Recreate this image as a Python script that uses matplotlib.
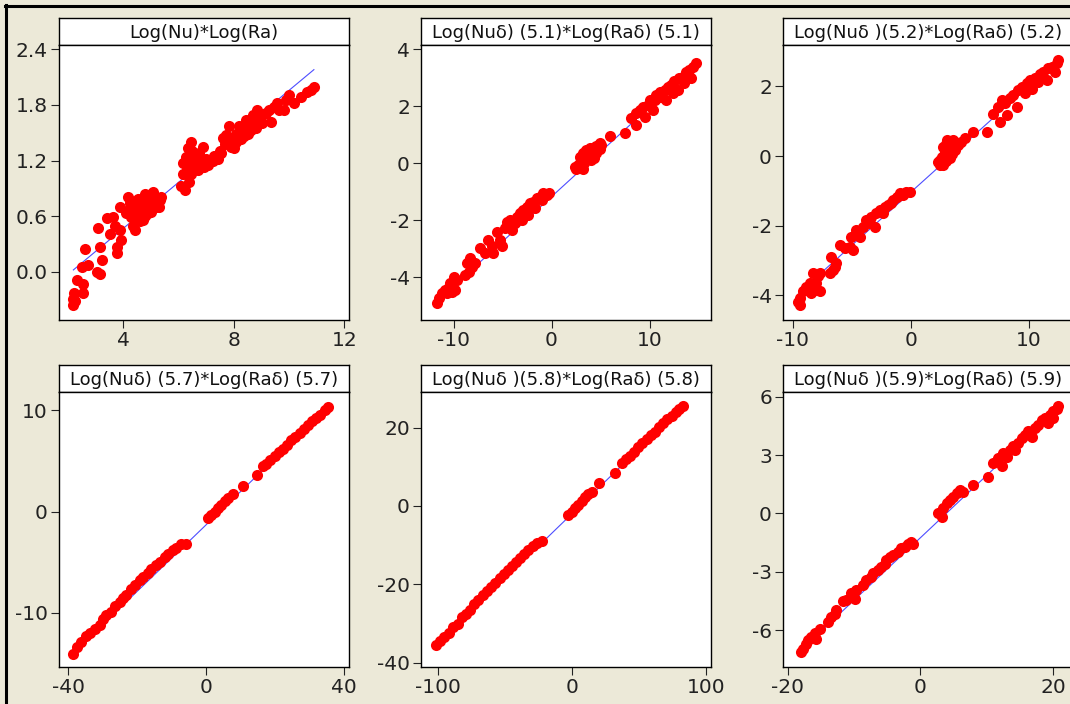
import matplotlib
matplotlib.use("Agg")
import matplotlib.pyplot as plt
from matplotlib.lines import Line2D

# === DATA ===
titles = [
    "Log(Nu)*Log(Ra)",
    "Log(Nuδ) (5.1)*Log(Raδ) (5.1)",
    "Log(Nuδ )(5.2)*Log(Raδ) (5.2)",
    "Log(Nuδ) (5.7)*Log(Raδ) (5.7)",
    "Log(Nuδ )(5.8)*Log(Raδ) (5.8)",
    "Log(Nuδ )(5.9)*Log(Raδ) (5.9)",
]

x1 = [2.20, 2.20, 2.22, 2.26, 2.32, 2.56, 2.56, 2.62, 2.50, 2.74, 3.04, 3.16, 3.10, 3.16,
      3.22, 3.40, 3.64, 3.52, 3.70, 3.76, 3.76, 3.88, 3.94, 3.88, 4.18, 4.24, 4.12, 4.30,
      4.36, 4.42, 4.48, 4.54, 4.60, 4.66, 4.72, 4.78, 4.84, 4.90, 4.96, 5.02, 5.08, 5.14,
      5.20, 5.32, 5.38, 6.10, 6.22, 6.40, 6.46, 6.16, 6.16, 6.28, 6.34, 6.46, 6.40, 6.52,
      6.58, 6.70, 6.76, 6.88, 6.82, 6.94, 7.06, 7.24, 7.42, 7.54, 7.60, 7.72, 7.84, 7.90,
      8.02, 8.08, 8.20, 8.26, 8.38, 8.44, 8.50, 8.62, 8.68, 8.80, 8.86, 9.04, 9.16, 9.28,
      9.34, 9.46, 9.58, 9.64, 9.82, 9.88, 10.00, 10.18, 10.42, 10.66, 10.90, 10.78,
      4.50, 4.60, 4.70, 4.80, 4.90, 5.00, 5.10, 5.20, 5.30, 4.40, 4.30, 4.55,
      6.30, 6.40, 6.50, 6.60, 6.70, 6.90, 7.00, 7.10, 7.30, 7.50, 7.70, 7.80, 8.00, 8.10,
      8.30, 8.50, 8.70, 8.90, 9.10]
y1 = [-0.36, -0.29, -0.23, -0.32, -0.09, -0.13, -0.23, 0.25, 0.05, 0.07, 0.00, -0.02, 0.47, 0.27,
      0.13, 0.58, 0.59, 0.41, 0.49, 0.27, 0.20, 0.45, 0.34, 0.70, 0.81, 0.74, 0.63, 0.59,
      0.49, 0.45, 0.70, 0.56, 0.77, 0.63, 0.56, 0.84, 0.74, 0.63, 0.81, 0.70, 0.86, 0.77,
      0.70, 0.77, 0.81, 0.92, 0.88, 0.97, 1.06, 1.06, 1.17, 1.24, 1.33, 1.40, 1.20, 1.24,
      1.13, 1.10, 1.28, 1.35, 1.20, 1.13, 1.15, 1.19, 1.22, 1.28, 1.44, 1.48, 1.57, 1.35,
      1.33, 1.49, 1.57, 1.43, 1.46, 1.64, 1.49, 1.53, 1.69, 1.55, 1.75, 1.60, 1.71, 1.75,
      1.62, 1.78, 1.82, 1.75, 1.75, 1.85, 1.91, 1.82, 1.89, 1.94, 1.99, 1.96,
      0.65, 0.55, 0.72, 0.60, 0.75, 0.65, 0.72, 0.80, 0.70, 0.60, 0.70, 0.78,
      1.10, 1.15, 1.30, 1.20, 1.25, 1.18, 1.22, 1.20, 1.25, 1.30, 1.38, 1.42, 1.45, 1.40,
      1.50, 1.55, 1.60, 1.65, 1.70]

x2 = [-11.69, -11.53, -11.19, -10.85, -10.51, -10.68, -10.17, -9.83, -9.66, -10.00, -10.34,
      -8.81, -8.47, -8.64, -8.14, -8.31, -7.80, -7.29, -6.78, -6.44, -6.10, -5.93, -5.59,
      -5.25, -5.08, -4.75, -4.58, -4.24, -4.07, -3.73, -3.56, -3.22, -3.05, -2.88, -2.54,
      -2.37, -2.20, -1.86, -1.69, -1.53, -1.19, -1.02, -0.85, -0.51, -0.24,
      2.37, 2.71, 2.88, 3.05, 3.22, 3.39, 3.56, 3.73, 3.90, 4.07, 4.24, 4.41, 4.58, 4.75,
      4.92, 5.08, 5.93, 7.46,
      8.14, 8.64, 8.64, 8.98, 9.32, 9.49, 9.83, 10.00, 10.34, 10.51, 10.68, 11.02, 11.19,
      11.53, 11.69, 11.86, 12.20, 12.37, 12.54, 12.88, 13.05, 13.39, 13.56, 13.73, 14.07,
      14.24, 14.41, 14.75,
      2.50, 2.90, 3.30, 3.60, 4.00, 4.30, 3.20, 3.80, 4.50, 4.90]
y2 = [-4.91, -4.74, -4.56, -4.44, -4.33, -4.56, -4.50, -4.44, -4.09, -3.98, -4.21,
      -3.92, -3.80, -3.51, -3.63, -3.33, -3.51, -2.98, -3.16, -2.69, -2.92, -3.16, -2.40,
      -2.69, -2.92, -2.28, -2.05, -1.99, -2.34, -2.11, -1.87, -1.75, -1.99, -1.64, -1.52,
      -1.81, -1.40, -1.35, -1.58, -1.23, -1.17, -1.29, -1.05, -1.11, -1.05,
      -0.12, -0.06, 0.23, -0.18, 0.35, 0.12, 0.47, 0.23, 0.53, 0.12, 0.41, 0.58, 0.35, 0.53,
      0.70, 0.64, 0.94, 1.05,
      1.58, 1.35, 1.75, 1.87, 1.99, 1.64, 2.05, 2.22, 1.87, 2.22, 2.40, 2.51, 2.34,
      2.57, 2.22, 2.69, 2.75, 2.46, 2.87, 2.57, 2.98, 3.04, 2.81, 3.22, 3.27,
      2.98, 3.39, 3.51,
      -0.20, -0.10, 0.00, 0.20, 0.30, 0.20, -0.20, 0.40, 0.60, 0.50]

x3 = [-9.41, -9.41, -9.55, -9.12, -8.84, -8.56, -8.42, -8.14, -7.99, -7.71, -7.85, -8.28,
      -7.71, -6.86, -6.58, -6.72, -6.30, -6.44, -6.02, -5.59, -5.17, -4.89, -5.03, -4.60,
      -4.32, -4.04, -3.76, -3.47, -3.33, -3.05, -2.91, -2.63, -2.34, -2.20, -1.92, -1.64,
      -1.50, -1.21, -0.93, -0.65, -0.37, -0.08,
      2.32, 2.46, 2.60, 2.74, 2.88, 3.02, 3.16, 3.31, 3.45, 3.59, 3.73, 4.01, 4.29, 4.58,
      5.28, 6.41,
      6.98, 7.40, 7.54, 7.68, 7.97, 8.11, 8.39, 8.67, 8.95, 9.10, 9.38, 9.66, 9.80, 10.08,
      10.23, 10.51, 10.79, 10.93, 11.21, 11.50, 11.64, 11.92, 12.20, 12.34, 12.49,
      2.50, 2.70, 3.00, 3.20, 3.50, 3.80, 3.10, 3.40, 2.90]
y3 = [-4.28, -4.09, -4.18, -3.89, -3.75, -3.66, -3.94, -3.85, -3.66, -3.89, -3.46, -3.37,
      -3.37, -3.37, -3.27, -2.89, -3.08, -3.18, -2.56, -2.65, -2.60, -2.70, -2.32, -2.12,
      -2.32, -2.03, -1.84, -1.93, -1.74, -2.03, -1.65, -1.55, -1.65, -1.45, -1.41, -1.36,
      -1.26, -1.17, -1.07, -1.12, -1.02, -1.02,
      -0.16, -0.26, -0.02, 0.27, 0.08, 0.36, 0.12, -0.07, 0.27, 0.46, 0.17, 0.32, 0.41, 0.51,
      0.70, 0.70,
      1.22, 1.42, 0.99, 1.61, 1.51, 1.18, 1.66, 1.75, 1.42, 1.89, 1.99, 1.80, 2.09, 2.18,
      1.94, 2.23, 2.13, 2.37, 2.42, 2.18, 2.52, 2.56, 2.42, 2.66, 2.76,
      -0.10, -0.25, -0.15, 0.20, 0.05, 0.30, 0.45, 0.40, 0.15]

x4 = [-38.7, -37.5, -36.3, -35.0, -33.8, -32.4, -30.9, -30.0, -29.0, -27.6, -26.6, -25.1,
      -24.2, -23.2, -21.8, -20.8, -19.3, -18.4, -16.9, -16.0, -14.5, -13.5, -12.1, -11.1,
      -9.7, -8.7, -7.3, -6.0,
      0.5, 1.5, 2.4, 3.4, 4.4, 5.3, 6.3, 7.7, 10.6, 14.7,
      16.4, 17.4, 18.6, 19.8, 21.1, 22.2, 23.4, 24.7, 25.8, 27.1, 28.2, 29.5, 30.7, 31.9,
      33.1, 34.3, 35.3]
y4 = [-14.03, -13.37, -12.87, -12.31, -11.98, -11.55, -11.22, -10.66, -10.23, -9.90, -9.34, -8.91,
      -8.58, -8.25, -7.69, -7.26, -6.77, -6.44, -6.04, -5.71, -5.28, -4.95, -4.52, -4.19,
      -3.80, -3.56, -3.23, -3.20,
      -0.66, -0.33, 0.00, 0.33, 0.66, 0.99, 1.32, 1.75, 2.54, 3.56,
      4.52, 4.72, 5.12, 5.45, 5.84, 6.17, 6.60, 7.03, 7.36, 7.76, 8.15, 8.58, 8.91, 9.24,
      9.57, 10.00, 10.33]

x5 = [-101.1, -98.1, -95.2, -91.9, -88.7, -85.2, -82.0, -78.8, -75.8, -72.8, -69.6, -66.3,
      -63.4, -60.1, -57.1, -53.9, -50.9, -47.7, -44.7, -41.5, -38.5, -35.3, -32.3, -29.1,
      -26.1, -22.4,
      -2.5, 0.0, 2.5, 5.0, 7.5, 9.9, 12.4, 14.9, 20.6, 32.3,
      37.3, 40.5, 43.5, 46.5, 49.7, 52.7, 55.9, 58.9, 62.1, 65.1, 68.3, 71.3, 74.5, 77.5,
      80.2, 82.7]
y5 = [-35.6, -34.5, -33.4, -32.4, -30.9, -30.2, -28.3, -27.5, -26.5, -24.9, -23.9, -22.8,
      -21.7, -20.6, -19.6, -18.5, -17.4, -16.4, -15.4, -14.3, -13.3, -12.3, -11.3, -10.2,
      -9.4, -8.9,
      -2.3, -1.45, -0.6, 0.26, 1.37, 2.2, 3.1, 3.7, 5.8, 8.5,
      10.9, 11.9, 12.8, 13.9, 15.0, 16.0, 17.1, 18.1, 19.0, 20.1, 21.2, 22.2, 23.0, 23.9,
      24.7, 25.4]

x6 = [-17.94, -17.69, -17.29, -16.93, -16.43, -15.93, -15.68, -15.18, -13.92, -13.42, -12.91,
      -12.66, -11.66, -11.16, -10.40, -9.90, -9.65, -8.64, -8.14, -7.39, -7.14, -6.38, -5.88,
      -5.38, -5.13, -4.62, -4.12, -3.37, -2.86, -2.36, -1.86, -1.36, -1.11,
      2.66, 3.17, 3.42, 3.92, 4.42, 4.92, 5.43, 5.93, 6.43, 7.94, 10.20,
      10.95, 11.71, 12.21, 12.46, 12.96, 13.47, 13.97, 14.22, 14.72, 15.23, 15.73, 16.23,
      16.73, 17.24, 17.74, 18.24, 18.74, 19.25, 19.50, 20.00, 20.50, 20.75, 20.00]
y6 = [-7.13, -6.96, -6.70, -6.53, -6.36, -6.15, -6.44, -5.93, -5.58, -5.33, -5.15,
      -4.98, -4.50, -4.43, -4.12, -4.38, -3.95, -3.69, -3.44, -3.26, -3.09, -2.92, -2.75,
      -2.58, -2.41, -2.23, -2.15, -1.98, -1.80, -1.72, -1.55, -1.46, -1.55,
      0.00, -0.17, 0.26, 0.52, 0.69, 0.86, 1.03, 1.20, 1.12, 1.46, 1.89,
      2.58, 2.84, 2.41, 3.09, 2.92, 3.26, 3.44, 3.26, 3.61, 3.87, 4.04, 4.21,
      3.95, 4.38, 4.55, 4.81, 4.90, 4.64, 5.07, 5.24, 5.36, 5.50, 4.90]

# fitted line end points
fit_x = [[2.2, 10.9], [-11.7, 14.7], [-9.5, 12.5], [-38.7, 35.3], [-101.0, 82.7], [-17.9, 20.7]]
fit_y = [[0.02, 2.18], [-4.85, 3.45], [-3.94, 2.78], [-14.0, 10.3], [-35.5, 25.4], [-7.0, 5.4]]

xs = [x1, x2, x3, x4, x5, x6]
ys = [y1, y2, y3, y4, y5, y6]

xlims = [(1.68, 12.17), (-13.32, 16.27), (-10.82, 13.73), (-42.75, 41.4), (-112.5, 103.9), (-20.7, 22.96)]
ylims = [(-0.52, 2.446), (-5.5, 4.15), (-4.71, 3.19), (-15.35, 11.8), (-41.1, 29.1), (-7.9, 6.24)]
xticks = [[4, 8, 12], [-10, 0, 10], [-10, 0, 10], [-40, 0, 40], [-100, 0, 100], [-20, 0, 20]]
yticks = [[0.0, 0.6, 1.2, 1.8, 2.4], [-4, -2, 0, 2, 4], [-4, -2, 0, 2], [-10, 0, 10],
          [-40, -20, 0, 20], [-6, -3, 0, 3, 6]]

# === LAYOUT (pixels) ===
W, H = 1070, 704
BG = "#ECE9D8"
lefts = [59, 421, 783]
row_tops = [45, 392]
PW, PH, TH = 290, 275, 27

plt.rcParams["font.family"] = ["DejaVu Sans"]
plt.rcParams["axes.unicode_minus"] = False

fig = plt.figure(figsize=(W / 100, H / 100), dpi=100, facecolor=BG)


def px_axes(x, y, w, h):
    return fig.add_axes([x / W, 1 - (y + h) / H, w / W, h / H])


for i in range(6):
    r, c = divmod(i, 3)
    x0, y0 = lefts[c], row_tops[r]

    # title strip
    tax = px_axes(x0, y0 - TH, PW, TH)
    tax.set_facecolor("white")
    tax.set_xticks([])
    tax.set_yticks([])
    for s in tax.spines.values():
        s.set_linewidth(1.0)
    tax.text(0.5, 0.45, titles[i], ha="center", va="center", fontsize=13,
             color="#111111", transform=tax.transAxes)

    ax = px_axes(x0, y0, PW, PH)
    ax.set_facecolor("white")
    ax.plot(fit_x[i], fit_y[i], color="#4D4DFF", lw=0.8, zorder=2)
    ax.plot(xs[i], ys[i], "o", color="#FF0000", ms=8, mew=0, zorder=3)
    ax.set_xlim(*xlims[i])
    ax.set_ylim(*ylims[i])
    ax.set_xticks(xticks[i])
    ax.set_yticks(yticks[i])
    if i == 0:
        ax.set_yticklabels([f"{v:.1f}" for v in yticks[i]])
    ax.tick_params(direction="out", length=6, width=0.8, labelsize=14.5, pad=2,
                   colors="#222222")
    for s in ax.spines.values():
        s.set_linewidth(1.0)

# black frame on the left and top edges
fig.add_artist(Line2D([6 / W, 6 / W], [0, 1 - 5 / H], transform=fig.transFigure,
                      color="black", lw=2.2))
fig.add_artist(Line2D([5 / W, 1], [1 - 6 / H, 1 - 6 / H], transform=fig.transFigure,
                      color="black", lw=2.2))

plt.savefig("out.png", dpi=100, facecolor=BG)
